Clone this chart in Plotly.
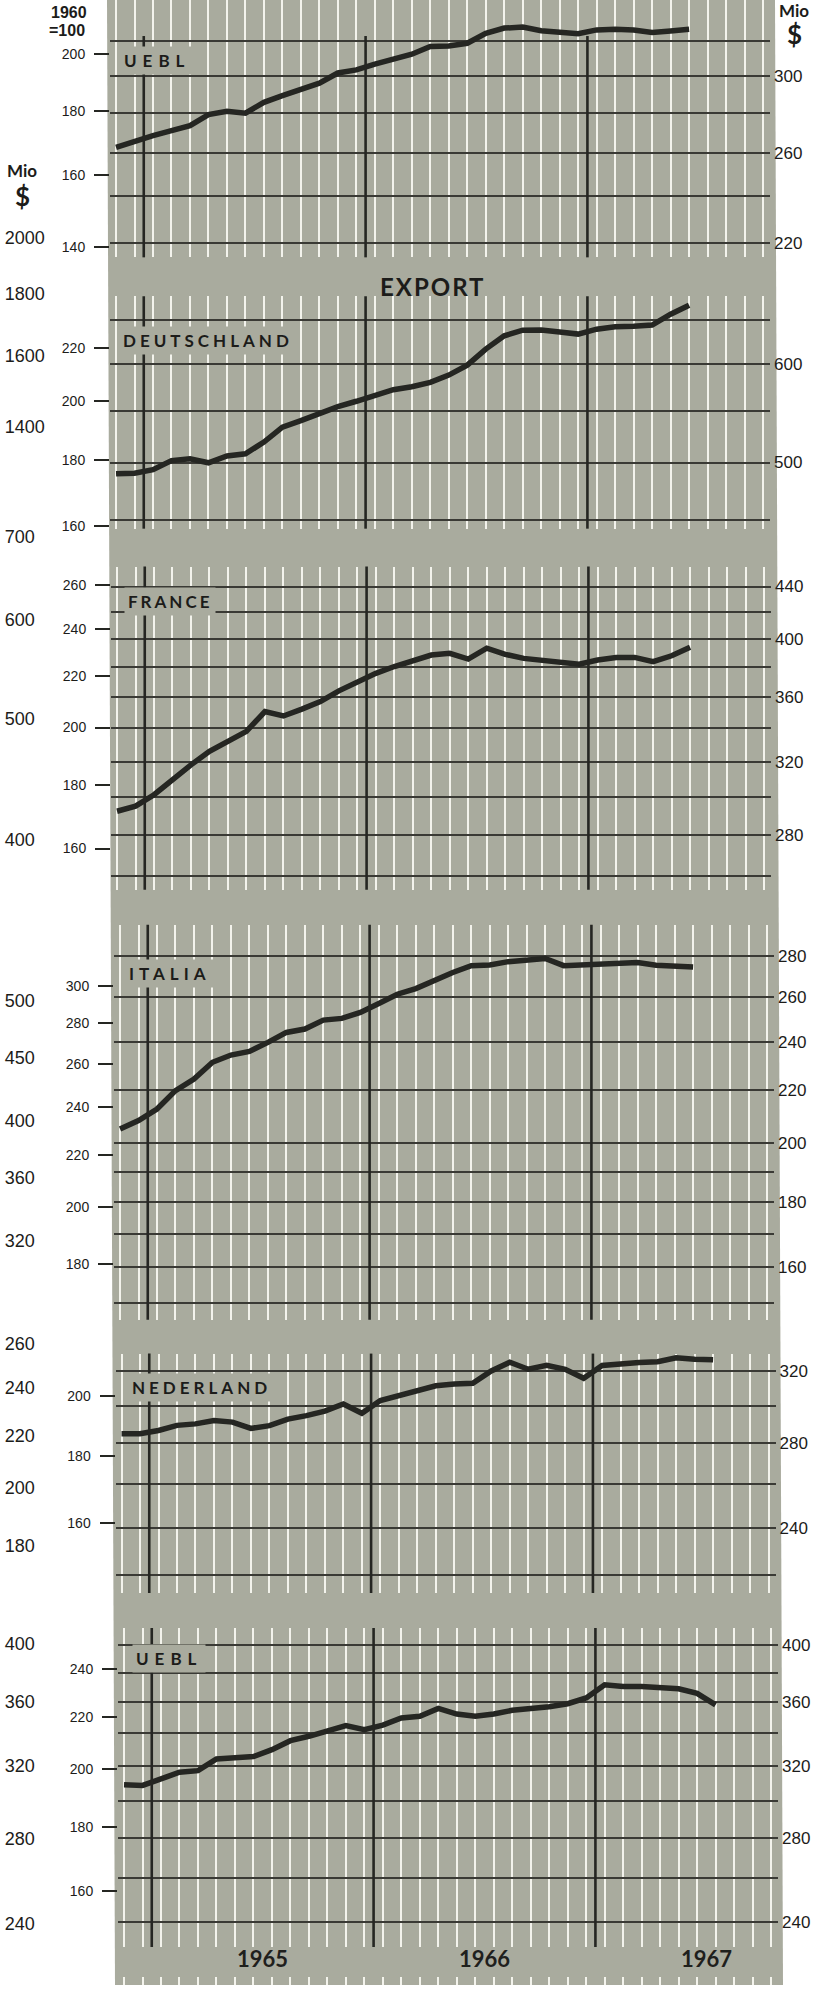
import math
import plotly.graph_objects as go

W, H = 827, 1990
GRAY = "#a9ab9e"
INK = "#252622"
RULE = "#3a3a35"
WHITE_RULE = "#f3f3ec"
NUM_FONT = "Liberation Sans, Arial, sans-serif"
LABEL_FONT = "Lato, Open Sans, sans-serif"

# ---------- data ----------
# months counted from Jan 1965 = 0; every series starts Nov 1964
FIRST = -2
MONTHS = list(range(-2, 34))          # Nov 1964 .. Oct 1967, one white rule each
YEARS = ["1965", "1966", "1967"]
NAMES = ["UEBL", "DEUTSCHLAND", "FRANCE", "ITALIA", "NEDERLAND", "UEBL"]

# export index, 1960 = 100
uebl_1 = [168.4, 170.3, 172.1, 173.7, 175.3, 178.9, 180.0, 179.4, 183.0, 185.3, 187.5,
          189.6, 193.2, 194.3, 196.4, 198.3, 200.0, 202.9, 203.1, 204.1, 207.9, 209.9,
          210.3, 208.9, 208.5, 207.7, 209.2, 209.5, 209.2, 208.2, 208.8, 209.5]
deutschland = [175.6, 175.8, 176.9, 179.8, 180.4, 179.1, 181.3, 182.0, 185.9, 190.9, 193.2,
               195.8, 198.1, 200.0, 202.0, 204.2, 205.3, 206.9, 209.6, 213.4, 219.6, 224.9,
               227.2, 227.3, 226.5, 225.6, 227.6, 228.6, 228.8, 229.3, 233.8, 237.6]
france = [171.4, 173.0, 176.7, 181.7, 186.7, 191.4, 194.7, 198.6, 206.0, 204.3, 206.9,
          209.8, 214.0, 217.7, 221.0, 223.8, 226.1, 228.6, 229.3, 226.9, 231.5, 228.9,
          227.2, 226.5, 225.8, 224.8, 226.5, 227.6, 227.6, 225.8, 228.3, 231.9]
italia = [230.7, 234.3, 239.3, 247.5, 252.8, 260.7, 264.2, 266.0, 270.4, 275.4, 277.1,
          281.7, 282.6, 285.7, 290.4, 295.4, 298.5, 303.1, 307.4, 311.3, 311.7, 313.6,
          314.8, 315.4, 311.3, 311.7, 311.7, 312.5, 313.1, 311.5, 310.9, 310.6]
nederland = [187.3, 187.3, 188.4, 190.1, 190.6, 191.7, 191.2, 189.1, 190.0, 192.2, 193.4,
             194.9, 197.4, 194.2, 198.6, 200.4, 202.1, 203.8, 204.4, 204.7, 209.2, 212.4,
             209.8, 211.3, 209.8, 206.5, 211.2, 212.0, 212.3, 212.6, 214.1, 213.5, 213.3]
uebl_2 = [194.3, 194.1, 196.4, 198.8, 199.4, 203.7, 204.1, 204.6, 207.2, 210.6, 212.3,
          214.5, 216.5, 214.9, 216.7, 219.5, 220.2, 223.4, 221.1, 220.2, 221.1, 222.6,
          223.3, 224.1, 225.3, 227.7, 233.2, 232.5, 232.5, 232.1, 231.5, 229.6, 224.8]
SERIES = [uebl_1, deutschland, france, italia, nederland, uebl_2]

# left scale (index) tick labels per panel
idx_ticks = [[140, 160, 180, 200], [160, 180, 200, 220], [160, 180, 200, 220, 240, 260],
             [180, 200, 220, 240, 260, 280, 300], [160, 180, 200], [160, 180, 200, 220, 240]]
# right scale (Mio $): ruled lines, and which of them carry a number
mio_rules = [[220, 240, 260, 280, 300, 320], [450, 500, 550, 600, 650],
             [260, 280, 300, 320, 340, 360, 380, 400, 420, 440],
             [150, 160, 170, 180, 190, 200, 220, 240, 260, 280],
             [220, 240, 260, 280, 300, 320], [240, 260, 280, 300, 320, 340, 360, 380, 400]]
mio_labels = [[220, 260, 300], [500, 600], [280, 320, 360, 400, 440],
              [160, 180, 200, 220, 240, 260, 280], [240, 280, 320], [240, 280, 320, 360, 400]]
# Mio $ scale of the neighbouring (cut off) chart at the left edge
edge_ticks = [[2000, 1800, 1600, 1400], [700, 600, 500, 400], [500, 450, 400, 360, 320],
              [260, 240, 220, 200, 180], [400, 360, 320, 280, 240]]

# ---------- geometry of the scan (pixels) ----------
X_M0, X_STEP = 153.0, 18.486   # px of Jan 1965 rule, px per month
X_L, X_R = 110, 770
PANELS = [
    dict(top=0, bot=258, dx=0, ytop=0.86, idx=((200, 54.4), (140, 248)), mio=((320, 41), (220, 244)),
         name_at=(120, 61), spacing=6),
    dict(top=297, bot=530, dx=0, ytop=1, idx=((220, 349), (160, 527)), mio=((650, 321), (450, 521)),
         name_at=(119, 341), spacing=4),
    dict(top=568, bot=892, dx=1, ytop=1, idx=((260, 586.7), (160, 850.7)), mio=((440, 588), (260, 878)),
         name_at=(124, 603), spacing=3),
    dict(top=927, bot=1323, dx=4, ytop=1, idx=((300, 988.3), (180, 1267.3)), mio=((280, 958.5), (150, 1306.5)),
         name_at=(125, 976), spacing=5),
    dict(top=1357, bot=1597, dx=5.5, ytop=1, idx=((200, 1400), (160, 1527.3)), mio=((320, 1374), (220, 1579)),
         name_at=(128, 1391), spacing=4),
    dict(top=1632, bot=1952, dx=8, ytop=1, idx=((240, 1673.3), (160, 1896)), mio=((400, 1649), (240, 1926.5)),
         name_at=(132, 1663), spacing=6),
]
EDGE = [
    dict(a=(2000, 238), b=(1400, 428), top=205, bot=460),
    dict(a=(700, 538), b=(400, 841.7), top=505, bot=870),
    dict(a=(500, 1003.3), b=(320, 1244.3), top=975, bot=1272),
    dict(a=(260, 1347.3), b=(180, 1550), top=1320, bot=1578),
    dict(a=(400, 1648.3), b=(240, 1928.3), top=1620, bot=1955),
]


def log_range(a, b, top, bot):
    (v1, y1), (v2, y2) = a, b
    k = (y2 - y1) / math.log10(v1 / v2)
    return [math.log10(v2) - (bot - y2) / k, math.log10(v1) + (y1 - top) / k]


def ydom(top, bot):
    return [1 - bot / H, 1 - top / H]


def sfx(n):
    return "" if n == 1 else str(n)


def text_at(text, x, y, size, family=LABEL_FONT, xanchor="center", **kw):
    return dict(text=text, xref="paper", yref="paper", x=x / W, y=1 - y / H,
                xanchor=xanchor, yanchor="middle", showarrow=False,
                font=dict(family=family, size=size, color="#1c1c1a"), **kw)


x_range = [(X_L - X_M0) / X_STEP, (X_R - X_M0) / X_STEP]

fig = go.Figure()
lay = {}
shapes = []
annotations = []

# gray card behind everything (scan is slightly skewed)
shapes.append(dict(type="path", xref="paper", yref="paper", layer="below",
                   path=f"M {107/W},1 L {775/W},1 L {783/W},0 L {115/W},0 Z",
                   fillcolor=GRAY, line=dict(width=0)))

for i, (p, vals) in enumerate(zip(PANELS, SERIES)):
    n = i + 1
    rn = n + 6
    lay[f"xaxis{sfx(n)}"] = dict(
        domain=[(X_L + p["dx"]) / W, (X_R + p["dx"]) / W], range=x_range, anchor=f"y{sfx(n)}",
        tickvals=MONTHS, showticklabels=False, ticks="", showgrid=True,
        gridcolor=WHITE_RULE, gridwidth=2, zeroline=False, showline=False, fixedrange=True)
    lay[f"yaxis{sfx(n)}"] = dict(
        domain=ydom(p["top"], p["bot"]), type="log", anchor=f"x{sfx(n)}",
        range=log_range(*p["idx"], p["top"], p["bot"]),
        tickvals=idx_ticks[i], ticktext=[str(v) for v in idx_ticks[i]],
        ticks="outside", ticklen=15, tickwidth=2, tickcolor=INK, ticklabelstandoff=6,
        tickfont=dict(family=NUM_FONT, size=14, color="#1c1c1a"),
        showgrid=False, zeroline=False, showline=False)
    lay[f"yaxis{rn}"] = dict(
        overlaying=f"y{sfx(n)}", side="right", anchor=f"x{sfx(n)}", type="log",
        range=log_range(*p["mio"], p["top"], p["bot"]),
        tickvals=mio_rules[i],
        ticktext=[str(v) if v in mio_labels[i] else "" for v in mio_rules[i]],
        ticks="", ticklabelstandoff=3,
        tickfont=dict(family=NUM_FONT, size=17, color="#1c1c1a"),
        showgrid=True, gridcolor=RULE, gridwidth=1.5, zeroline=False, showline=False)

    fig.add_trace(go.Scatter(x=[None], y=[None], xaxis=f"x{sfx(n)}", yaxis=f"y{rn}",
                             showlegend=False, hoverinfo="skip"))
    fig.add_trace(go.Scatter(x=list(range(FIRST, FIRST + len(vals))), y=vals, mode="lines",
                             line=dict(color=INK, width=5.5),
                             xaxis=f"x{sfx(n)}", yaxis=f"y{sfx(n)}", showlegend=False))

    # heavy rules at the turn of each year
    for k in range(len(YEARS)):
        b = -0.5 + 12 * k
        shapes.append(dict(type="line", xref=f"x{sfx(n)}", yref=f"y{sfx(n)} domain",
                           x0=b, x1=b, y0=0, y1=p["ytop"], layer="above",
                           line=dict(color=INK, width=2.6)))

    nx, ny = p["name_at"]
    annotations.append(text_at(
        f"<span style='letter-spacing:{p['spacing']}px'><b>{NAMES[i]}</b></span>",
        nx, ny, 17, xanchor="left", bgcolor=GRAY, borderpad=3))

# white rule stubs of the next card at the very bottom
lay["xaxis7"] = dict(domain=[(X_L + 8) / W, (X_R + 8) / W], range=x_range, anchor="y13",
                     tickvals=MONTHS, showticklabels=False, ticks="", showgrid=True,
                     gridcolor=WHITE_RULE, gridwidth=2, zeroline=False, showline=False)
lay["yaxis13"] = dict(domain=[0, 8 / H], anchor="x7", visible=False, range=[0, 1])
fig.add_trace(go.Scatter(x=[None], y=[None], xaxis="x7", yaxis="y13",
                         showlegend=False, hoverinfo="skip"))

# scale of the neighbouring chart along the left edge
lay["xaxis8"] = dict(domain=[0, 0.002], visible=False, range=[0, 1])
for j, e in enumerate(EDGE):
    an = 14 + j
    lay[f"yaxis{an}"] = dict(
        domain=ydom(e["top"], e["bot"]), anchor="x8", side="right", type="log",
        range=log_range(e["a"], e["b"], e["top"], e["bot"]),
        tickvals=edge_ticks[j], ticktext=[str(v) for v in edge_ticks[j]],
        ticks="", ticklabelstandoff=2,
        tickfont=dict(family=NUM_FONT, size=18, color="#1c1c1a"),
        showgrid=False, zeroline=False, showline=False)
    fig.add_trace(go.Scatter(x=[None], y=[None], xaxis="x8", yaxis=f"y{an}",
                             showlegend=False, hoverinfo="skip"))

# year names under the last card
for k, yr in enumerate(YEARS):
    annotations.append(dict(text=f"<b>{yr}</b>", xref="x6", yref="paper", x=5.5 + 12 * k,
                            y=1 - 1963 / H, xanchor="center", yanchor="middle", showarrow=False,
                            font=dict(family=LABEL_FONT, size=22, color="#1f201d")))

annotations += [
    text_at("<span style='letter-spacing:2px'><b>EXPORT</b></span>", 433, 287, 24),
    text_at("<b>1960</b>", 49, 13, 16, family=NUM_FONT, xanchor="left"),
    text_at("<b>=100</b>", 47, 31, 16, family=NUM_FONT, xanchor="left"),
    text_at("<b>Mio</b>", 22, 171, 17),
    text_at("<b>$</b>", 22, 196, 26),
    text_at("<b>Mio</b>", 794, 11, 17),
    text_at("<b>$</b>", 794, 34, 26),
]

fig.update_layout(
    width=W, height=H, margin=dict(l=0, r=0, t=0, b=0),
    paper_bgcolor="white", plot_bgcolor="rgba(0,0,0,0)",
    showlegend=False, shapes=shapes, annotations=annotations,
    **lay,
)

# the page's default body margin would push the figure 8px off the window
fig.write_html("out.html", config={"displayModeBar": False},
               post_script="document.body.style.margin='0px';")
